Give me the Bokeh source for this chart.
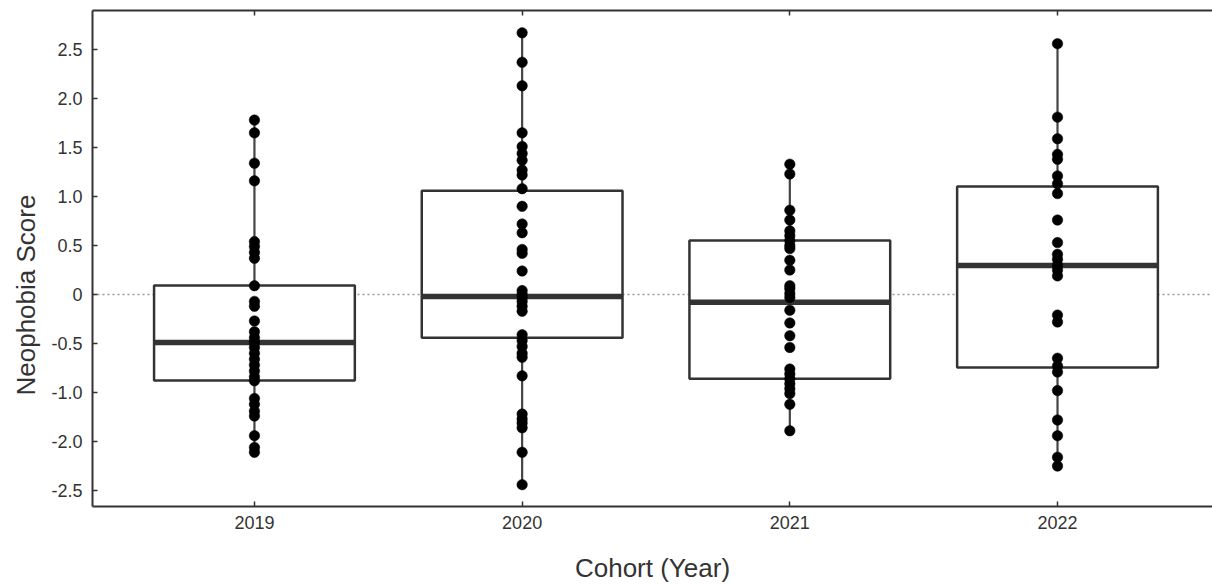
from bokeh.plotting import figure
from bokeh.models import ColumnDataSource, FixedTicker, LinearAxis, Range1d, Span, Title
from bokeh.embed import file_html
from bokeh.resources import INLINE

# Cohorts and per-child neophobia scores
cohorts = ["2019", "2020", "2021", "2022"]

scores_2019 = [1.78, 1.65, 1.34, 1.16, 0.54, 0.49, 0.43, 0.37, 0.09, -0.07,
               -0.12, -0.27, -0.38, -0.44, -0.49, -0.54, -0.60, -0.66, -0.72,
               -0.78, -0.84, -0.88, -1.06, -1.12, -1.19, -1.24, -1.44, -1.56,
               -1.61]
scores_2020 = [2.67, 2.37, 2.13, 1.65, 1.51, 1.44, 1.37, 1.27, 1.22, 1.08,
               0.90, 0.72, 0.63, 0.46, 0.42, 0.24, 0.04, 0.00, -0.03, -0.07,
               -0.12, -0.17, -0.41, -0.47, -0.53, -0.60, -0.64, -0.83, -1.22,
               -1.27, -1.31, -1.36, -1.61, -1.94]
scores_2021 = [1.33, 1.23, 0.86, 0.76, 0.65, 0.60, 0.55, 0.50, 0.47, 0.35,
               0.25, 0.09, 0.06, 0.01, -0.03, -0.16, -0.29, -0.42, -0.54,
               -0.76, -0.81, -0.86, -0.91, -0.96, -1.01, -1.12, -1.39]
scores_2022 = [2.56, 1.81, 1.59, 1.43, 1.38, 1.21, 1.13, 1.03, 0.76, 0.53,
               0.41, 0.36, 0.30, 0.25, 0.19, -0.21, -0.28, -0.65, -0.73,
               -0.79, -0.98, -1.28, -1.44, -1.66, -1.75]

# Box statistics per cohort
q1 = [-0.878, -0.44, -0.86, -0.745]
median = [-0.49, -0.02, -0.08, 0.296]
q3 = [0.092, 1.06, 0.55, 1.102]

# Value axis ticks and the labels printed at them
y_ticks = [-2.0, -1.5, -1.0, -0.5, 0.0, 0.5, 1.0, 1.5, 2.0, 2.5]
y_tick_labels = ["-2.5", "-2.0", "-1.0", "-0.5", "0", "0.5", "1.0", "1.5", "2.0", "2.5"]

all_scores = [scores_2019, scores_2020, scores_2021, scores_2022]
positions = [i + 1 for i in range(len(cohorts))]
box_w = 0.75

INK = "#333333"
FONT = "Liberation Sans"

p = figure(
    width=1212, height=586,
    x_range=Range1d(0.395, 4.579), y_range=Range1d(-2.163, 2.898),
    output_backend="svg", toolbar_location=None,
    min_border_left=92, min_border_right=0, min_border_top=10, min_border_bottom=80,
    x_axis_location=None, y_axis_location=None,
)
p.grid.visible = False
p.outline_line_color = None
p.background_fill_color = "white"
p.border_fill_color = "white"

# reference line at zero
p.add_layout(Span(location=0, dimension="width", line_color="#999999",
                  line_width=1.5, line_dash="2 3", level="underlay"))

box_src = ColumnDataSource(dict(
    x=positions, q1=q1, q3=q3, med=median,
    lo=[min(s) for s in all_scores], hi=[max(s) for s in all_scores],
    left=[x - box_w / 2 for x in positions], right=[x + box_w / 2 for x in positions],
))

# whiskers span the full range of each cohort
p.segment(x0="x", y0="lo", x1="x", y1="hi", source=box_src,
          line_color="#444444", line_width=2.2)
# interquartile boxes
p.vbar(x="x", width=box_w, bottom="q1", top="q3", source=box_src,
       fill_color="white", line_color=INK, line_width=2.5)
# medians
p.segment(x0="left", y0="med", x1="right", y1="med", source=box_src,
          line_color=INK, line_width=5.5)

# individual scores
px, py = [], []
for x, s in zip(positions, all_scores):
    px += [x] * len(s)
    py += s
p.scatter(px, py, size=10.5, fill_color="black", line_color="black", line_width=0.5)

# axes
ax_b = LinearAxis(ticker=FixedTicker(ticks=positions),
                  major_label_overrides={x: c for x, c in zip(positions, cohorts)},
                  axis_label="Cohort (Year)")
ax_l = LinearAxis(ticker=FixedTicker(ticks=y_ticks, minor_ticks=[]),
                  major_label_overrides={t: lab for t, lab in zip(y_ticks, y_tick_labels)})
ax_t = LinearAxis(ticker=FixedTicker(ticks=positions))

for ax in (ax_b, ax_l, ax_t):
    ax.axis_line_color = INK
    ax.axis_line_width = 2
    ax.major_tick_line_color = INK
    ax.major_tick_line_width = 1.5
    ax.major_tick_in = 5
    ax.major_tick_out = 0
    ax.minor_tick_line_color = None
    ax.major_label_text_font = FONT
    ax.major_label_text_font_size = "18px"
    ax.major_label_text_color = INK
    ax.axis_label_text_font = FONT
    ax.axis_label_text_font_size = "26px"
    ax.axis_label_text_font_style = "normal"
    ax.axis_label_text_color = INK

ax_b.major_label_standoff = 9
ax_b.axis_label_standoff = 21
ax_l.major_label_standoff = 10
ax_t.major_label_text_font_size = "1px"
ax_t.major_label_text_alpha = 0
ax_t.major_label_standoff = 0

p.add_layout(ax_b, "below")
p.add_layout(ax_l, "left")
p.add_layout(ax_t, "above")

# y-axis title, starting 111 px above the bottom of the frame
p.add_layout(Title(text="Neophobia Score", align="left", offset=111, standoff=15,
                   text_font=FONT, text_font_size="26px", text_font_style="normal",
                   text_color=INK), "left")

open("out.html", "w").write(file_html(p, INLINE))
